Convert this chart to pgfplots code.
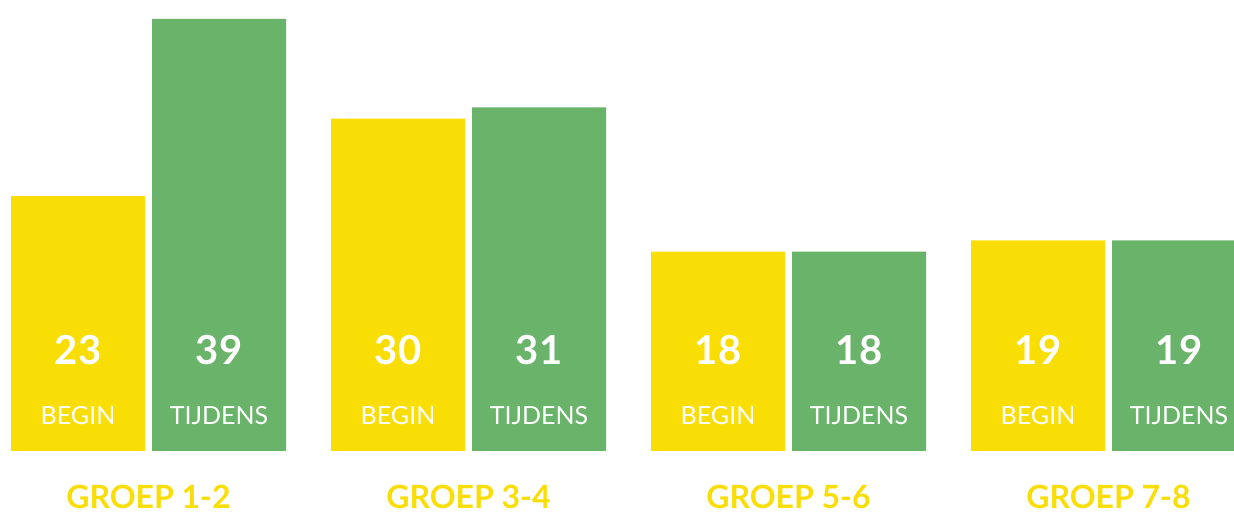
\documentclass[border=0pt]{standalone}
\usepackage{fontspec}
\setmainfont{Lato}
\usepackage{pgfplots}
\pgfplotsset{compat=1.18}
\definecolor{geel}{HTML}{F9DE06}
\definecolor{groen}{HTML}{6AB36A}
\begin{document}
\begin{tikzpicture}
\begin{axis}[
  scale only axis,
  width=617pt, height=256.5pt,
  xmin=-0.4641, xmax=3.3922,
  ymin=-5.596, ymax=40.70,
  hide axis,
  ybar=3.5pt, bar width=67pt,
]
\addplot[fill=geel, draw=none] coordinates {(0,23) (1,30) (2,18) (3,19)};
\addplot[fill=groen, draw=none] coordinates {(0,39) (1,31) (2,18) (3,19)};
\foreach \g/\b/\t [count=\i from 0] in {1-2/23/39, 3-4/30/31, 5-6/18/18, 7-8/19/19} {
  \edef\tmp{
    \noexpand\node[text=white, font=\noexpand\fontsize{20}{24}\noexpand\selectfont\noexpand\bfseries] at (axis cs:\i-0.2203,9.1) {\b};
    \noexpand\node[text=white, font=\noexpand\fontsize{20}{24}\noexpand\selectfont\noexpand\bfseries] at (axis cs:\i+0.2203,9.1) {\t};
    \noexpand\node[text=white, font=\noexpand\fontsize{12.5}{15}\noexpand\selectfont] at (axis cs:\i-0.2203,3.16) {BEGIN};
    \noexpand\node[text=white, font=\noexpand\fontsize{12.5}{15}\noexpand\selectfont] at (axis cs:\i+0.2203,3.16) {TIJDENS};
    \noexpand\node[text=geel, font=\noexpand\fontsize{16}{19}\noexpand\selectfont\noexpand\bfseries] at (axis cs:\i,-4.15) {GROEP \g};
  }
  \tmp
}
\end{axis}
\pgfresetboundingbox
\path (current axis.south west) rectangle (current axis.north east);
\end{tikzpicture}
\end{document}
